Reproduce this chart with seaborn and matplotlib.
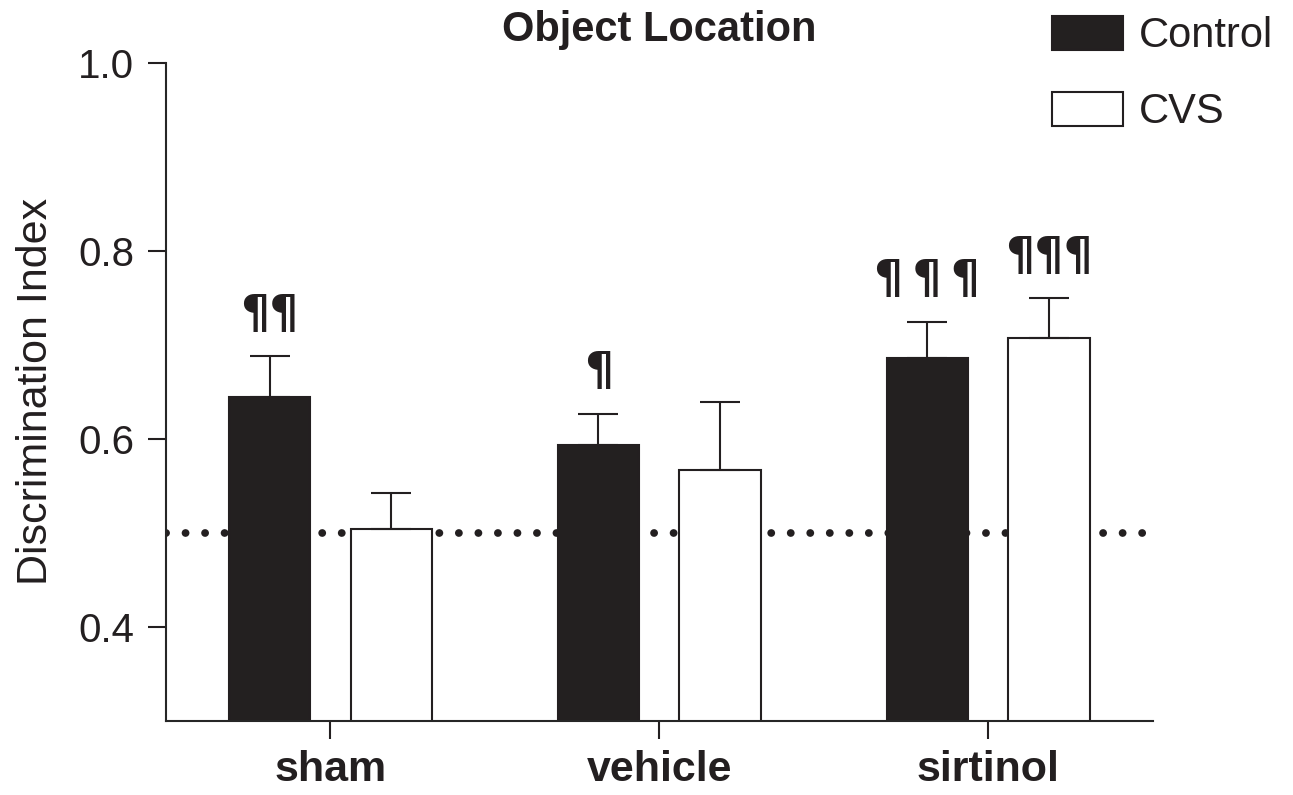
import pandas as pd
import seaborn as sns
import matplotlib.pyplot as plt

groups = ['sham', 'vehicle', 'sirtinol']
conditions = ['Control', 'CVS']
control_mean = [0.645, 0.594, 0.686]
control_sem = [0.043, 0.033, 0.039]
cvs_mean = [0.504, 0.567, 0.707]
cvs_sem = [0.038, 0.072, 0.043]
control_marks = ['¶¶', '¶', '¶\u2009¶\u2009¶']
cvs_marks = ['', '', '¶¶¶']

df = pd.DataFrame({
    'group': groups * 2,
    'condition': ['Control'] * 3 + ['CVS'] * 3,
    'value': control_mean + cvs_mean,
})

ink = '#231f20'
sns.set_style('ticks')
plt.rcParams['font.family'] = ['Liberation Sans', 'DejaVu Sans']
plt.rcParams['axes.linewidth'] = 1.5

fig = plt.figure(figsize=(12.93, 7.95), dpi=100)
ax = fig.add_axes([0.1284, 0.0936, 0.7630, 0.8268])

# chance level, drawn behind the bars
ax.axhline(0.5, color=ink, lw=5.6, dashes=[0.01, 2.5],
           dash_capstyle='round', zorder=0.5)

sns.barplot(data=df, x='group', y='value', hue='condition', hue_order=conditions,
            palette={'Control': ink, 'CVS': 'white'}, edgecolor=ink, linewidth=1.5,
            width=0.74, gap=0.33, errorbar=None, ax=ax)

sems = [control_sem, cvs_sem]
marks = [control_marks, cvs_marks]
for cont, err, mk in zip(ax.containers, sems, marks):
    for bar, e, m in zip(cont, err, mk):
        x = bar.get_x() + bar.get_width() / 2
        h = bar.get_height()
        ax.errorbar(x, h, yerr=[[0], [e]], fmt='none', ecolor=ink,
                    elinewidth=1.5, capsize=14.4, capthick=1.5, zorder=3)
        if m:
            ax.annotate(m, xy=(x, h + e), xytext=(0, 13), textcoords='offset points',
                        ha='center', va='bottom', fontsize=33, fontweight='bold',
                        family='DejaVu Sans', color=ink)

ax.set_xlim(-0.5, 2.5)
ax.set_ylim(0.3, 1.0)
ax.set_yticks([0.4, 0.6, 0.8, 1.0])
ax.set_yticklabels(['0.4', '0.6', '0.8', '1.0'])
ax.tick_params(axis='both', length=13, width=1.5, color=ink, labelcolor=ink)
ax.tick_params(axis='y', labelsize=29, pad=10)
ax.tick_params(axis='x', labelsize=31, pad=8)
for lab in ax.get_xticklabels():
    lab.set_fontweight('bold')
ax.set_xlabel('')
ax.set_ylabel('Discrimination Index', fontsize=31, color=ink, labelpad=16)
ax.set_title('Object Location', fontsize=30, fontweight='bold', color=ink, pad=16)
sns.despine(ax=ax)

sns.move_legend(ax, 'upper left', bbox_to_anchor=(1052 / 1293, 1 - 16 / 795),
                bbox_transform=fig.transFigure, frameon=False, title=None,
                fontsize=30, handlelength=1.71, handleheight=0.86,
                handletextpad=0.38, labelspacing=0.86, borderpad=0, borderaxespad=0)
for t in ax.get_legend().get_texts():
    t.set_color(ink)

fig.savefig('out.png', dpi=100)
